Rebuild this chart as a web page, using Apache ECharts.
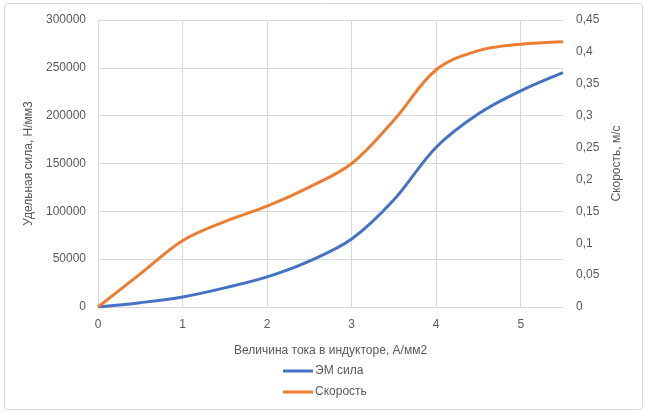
<!DOCTYPE html>
<html>
<head>
<meta charset="utf-8">
<script src="https://cdn.jsdelivr.net/npm/echarts@6/dist/echarts.min.js"></script>
<style>
html,body{margin:0;padding:0;background:#fff;}
#c{width:648px;height:415px;}
</style>
</head>
<body>
<div id="c"></div>
<script>
var xValues = [0, 0.5, 1, 1.5, 2, 2.5, 3, 3.5, 4, 4.5, 5, 5.5];
var forceValues = [0, 4500, 10500, 20000, 31500, 48000, 71000, 112000, 167000, 202000, 226000, 245000];
var speedValues = [0, 0.052, 0.104, 0.134, 0.158, 0.188, 0.225, 0.293, 0.372, 0.402, 0.412, 0.416];
var seriesNames = ['ЭМ сила', 'Скорость'];
var xAxisTitle = 'Величина тока в индукторе, А/мм2';
var leftAxisTitle = 'Удельная сила, Н/мм3';
var rightAxisTitle = 'Скорость, м/с';

var font = 'Liberation Sans';
var txt = '#595959';
var chart = echarts.init(document.getElementById('c'), null, {renderer: 'canvas'});
function pairs(vals) { return xValues.map(function (x, i) { return [x, vals[i]]; }); }
var lineIcon = 'path://M0,4 L30,4 L30,7 L0,7 Z';
chart.setOption({
  animation: false,
  backgroundColor: '#fff',
  textStyle: {fontFamily: font},
  graphic: [{
    type: 'rect', shape: {x: 4.5, y: 3.5, width: 638, height: 406, r: 3},
    style: {fill: 'none', stroke: '#d9d9d9', lineWidth: 1}, silent: true, z: -1
  }],
  grid: {left: 98, right: 85, top: 20, bottom: 108, containLabel: false},
  legend: {
    orient: 'vertical', left: 278, top: 360, itemWidth: 30, itemHeight: 10, itemGap: 9,
    textStyle: {color: txt, fontSize: 12, fontFamily: font, padding: [0, 0, 0, -3]},
    data: [{name: seriesNames[0], icon: lineIcon}, {name: seriesNames[1], icon: lineIcon}]
  },
  xAxis: {
    type: 'value', min: 0, max: 5.5, interval: 1,
    name: xAxisTitle, nameLocation: 'middle', nameGap: 38,
    nameTextStyle: {color: txt, fontSize: 12, fontFamily: font},
    axisLine: {show: false}, axisTick: {show: false},
    axisLabel: {color: txt, fontSize: 12, fontFamily: font, margin: 12, showMaxLabel: false},
    splitLine: {show: true, showMaxLine: false, lineStyle: {color: '#d9d9d9', width: 1}}
  },
  yAxis: [{
    type: 'value', min: 0, max: 300000, interval: 50000, position: 'left',
    name: leftAxisTitle, nameLocation: 'middle', nameGap: 52, nameRotate: 90,
    nameTextStyle: {color: txt, fontSize: 12, fontFamily: font},
    axisLine: {show: false}, axisTick: {show: false},
    axisLabel: {color: txt, fontSize: 12, fontFamily: font, margin: 12,
      formatter: function (v) { return String(Math.round(v)); }},
    splitLine: {show: true, lineStyle: {color: '#d9d9d9', width: 1}}
  }, {
    type: 'value', min: 0, max: 0.45, interval: 0.05, position: 'right',
    name: rightAxisTitle, nameLocation: 'middle', nameGap: 46, nameRotate: 90,
    nameTextStyle: {color: txt, fontSize: 12, fontFamily: font},
    axisLine: {show: false}, axisTick: {show: false},
    axisLabel: {color: txt, fontSize: 12, fontFamily: font, margin: 13,
      formatter: function (v) { return String(+v.toFixed(2)).replace('.', ','); }},
    splitLine: {show: false}
  }],
  series: [{
    name: seriesNames[0], type: 'line', yAxisIndex: 0, data: pairs(forceValues),
    smooth: 0.35, symbol: 'none', lineStyle: {color: '#4472C4', width: 3}, itemStyle: {color: '#4472C4'}
  }, {
    name: seriesNames[1], type: 'line', yAxisIndex: 1, data: pairs(speedValues),
    smooth: 0.35, symbol: 'none', lineStyle: {color: '#ED7D31', width: 3}, itemStyle: {color: '#ED7D31'}
  }]
});
</script>
</body>
</html>
